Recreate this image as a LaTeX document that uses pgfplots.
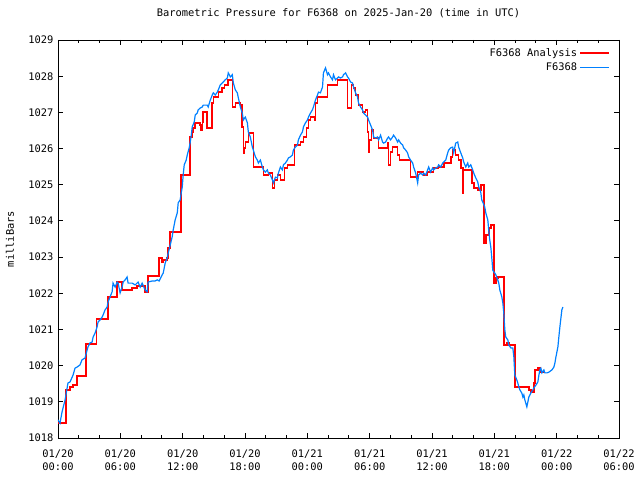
\documentclass[border=0pt]{standalone}
\usepackage{fontspec}
\setmainfont{DejaVu Sans Mono}
\usepackage{pgfplots}
\pgfplotsset{compat=1.18}
\definecolor{obsblue}{RGB}{0,128,255}
\newcommand\gf{\fontsize{10.4}{13}\selectfont}
\begin{document}
\begin{tikzpicture}[x=1pt,y=1pt,font=\gf]
\useasboundingbox (0,0) rectangle (640,480);
\begin{axis}[
  at={(58pt,42pt)}, anchor=south west, scale only axis,
  width=561pt, height=398pt,
  xmin=0, xmax=54, ymin=1018, ymax=1029,
  axis line style={line width=0.9pt},
  every tick/.style={black, line width=0.9pt},
  tick align=inside, major tick length=5pt, minor tick length=3pt,
  xtick={0,6,...,54},
  minor xtick={2,4,8,10,14,16,20,22,26,28,32,34,38,40,44,46,50,52},
  xticklabels={{01/20\\00:00},{01/20\\06:00},{01/20\\12:00},{01/20\\18:00},{01/21\\00:00},{01/21\\06:00},{01/21\\12:00},{01/21\\18:00},{01/22\\00:00},{01/22\\06:00}},
  xticklabel style={align=center, font=\gf, yshift=-8pt},
  ytick={1018,1019,...,1029},
  yticklabel style={font=\gf, /pgf/number format/1000 sep={}, /pgf/number format/assume math mode=true, xshift=-1pt},
  title={Barometric Pressure for F6368 on 2025-Jan-20 (time in UTC)},
  title style={font=\gf, at={(axis description cs:0.5,1.0528)}, anchor=center},
  ylabel={milliBars},
  ylabel style={font=\gf, at={(axis description cs:-0.0856,0.5)}, anchor=center},
  legend style={font=\gf, draw=none, fill=none, at={(axis description cs:0.984,0.985)}, anchor=north east, row sep=1pt, inner sep=0pt},
  legend cell align=right,
  legend plot pos=right,
  legend image code/.code={\draw[#1] (0pt,0pt) -- (29pt,0pt);},
]
\addplot[red, line width=1.6pt, const plot] coordinates {
(0.00,1018.41) (0.77,1019.33) (1.16,1019.41) (1.45,1019.46) (1.83,1019.71)
(2.70,1020.60) (3.71,1021.29) (4.82,1021.90) (5.69,1022.31) (6.17,1022.09)
(7.14,1022.15) (7.62,1022.20) (8.39,1022.04) (8.68,1022.48) (9.74,1022.98)
(10.03,1022.86) (10.13,1022.92) (10.51,1022.98) (10.61,1023.25) (10.80,1023.69)
(11.86,1025.27) (12.73,1026.32) (12.92,1026.46) (13.02,1026.57) (13.21,1026.71)
(13.69,1026.65) (13.79,1026.51) (13.89,1026.73) (13.98,1027.01) (14.37,1026.57)
(14.85,1027.26) (14.95,1027.43) (15.43,1027.56) (15.81,1027.67) (16.01,1027.76)
(16.39,1027.90) (16.78,1027.15) (17.07,1027.26) (17.55,1027.20) (17.74,1026.60)
(17.84,1025.88) (17.94,1026.02) (18.03,1026.18) (18.32,1026.43) (18.80,1025.49)
(19.77,1025.27) (20.25,1025.32) (20.64,1024.91) (20.83,1025.13) (21.12,1025.27)
(21.41,1025.13) (21.79,1025.46) (22.08,1025.55) (22.76,1026.10) (23.34,1026.18)
(23.63,1026.32) (23.91,1026.57) (24.11,1026.79) (24.30,1026.87) (24.69,1026.79)
(24.78,1027.26) (24.98,1027.43) (25.94,1027.76) (26.90,1027.90) (27.87,1027.12)
(28.25,1027.76) (28.45,1027.67) (28.64,1027.48) (28.93,1027.20) (29.31,1027.01)
(29.60,1027.07) (29.80,1026.46) (29.89,1025.91) (29.99,1026.24) (30.18,1026.51)
(30.38,1026.29) (30.86,1026.02) (31.73,1026.15) (31.82,1025.55) (32.01,1025.91)
(32.21,1026.04) (32.69,1025.82) (32.88,1025.68) (33.94,1025.21) (34.62,1025.35)
(35.20,1025.27) (35.58,1025.35) (36.16,1025.46) (36.64,1025.49) (37.13,1025.60)
(37.80,1025.77) (37.99,1025.96) (38.28,1025.82) (38.57,1025.68) (38.77,1025.46)
(38.96,1024.77) (39.05,1025.41) (39.83,1025.05) (40.02,1024.91) (40.40,1024.86)
(40.69,1024.99) (40.98,1023.39) (41.18,1023.61) (41.46,1023.80) (41.66,1023.89)
(41.95,1022.28) (42.14,1022.42) (42.33,1022.45) (42.91,1020.57) (43.20,1020.63)
(43.39,1020.57) (43.97,1019.41) (45.32,1019.33) (45.51,1019.27) (45.80,1019.52)
(45.90,1019.88) (46.19,1019.93) (46.38,1019.82) (46.77,1019.82)
};
\addlegendentry{F6368 Analysis}
\addplot[obsblue, line width=1.2pt] coordinates {
(0.00,1018.50) (0.19,1018.41) (0.39,1018.72) (0.68,1019.05) (0.96,1019.52)
(1.16,1019.55) (1.45,1019.74) (1.64,1019.93) (1.83,1019.96) (2.12,1020.02)
(2.31,1020.16) (2.60,1020.21) (2.80,1020.43) (2.89,1020.52) (3.09,1020.63)
(3.28,1020.65) (3.38,1020.79) (3.57,1020.90) (3.76,1021.07) (3.86,1021.21)
(4.05,1021.26) (4.24,1021.34) (4.34,1021.40) (4.53,1021.54) (4.73,1021.62)
(4.82,1021.76) (5.01,1021.90) (5.21,1022.04) (5.30,1022.28) (5.50,1022.17)
(5.69,1022.31) (5.79,1022.28) (5.98,1022.01) (6.17,1022.17) (6.27,1022.31)
(6.46,1022.37) (6.65,1022.45) (6.75,1022.28) (7.14,1022.28) (7.43,1022.23)
(7.71,1022.31) (7.91,1022.17) (8.10,1022.28) (8.39,1022.09) (8.58,1022.04)
(8.68,1022.31) (9.06,1022.34) (9.35,1022.34) (9.55,1022.37) (9.74,1022.34)
(10.03,1022.51) (10.13,1022.56) (10.32,1022.84) (10.51,1022.98) (10.61,1023.11)
(10.80,1023.33) (10.99,1023.56) (11.09,1023.75) (11.28,1024.03) (11.48,1024.22)
(11.57,1024.50) (11.76,1024.58) (11.86,1024.77) (11.96,1024.94) (12.05,1025.27)
(12.15,1025.55) (12.34,1025.68) (12.44,1025.82) (12.63,1026.02) (12.73,1026.18)
(12.83,1026.37) (12.92,1026.60) (13.11,1026.73) (13.21,1026.93) (13.40,1026.98)
(13.50,1027.07) (13.69,1027.12) (13.89,1027.15) (13.98,1027.20) (14.37,1027.20)
(14.46,1027.15) (14.66,1027.34) (14.85,1027.48) (14.95,1027.54) (15.14,1027.48)
(15.33,1027.56) (15.43,1027.62) (15.62,1027.76) (15.81,1027.81) (16.10,1027.90)
(16.30,1027.95) (16.39,1028.09) (16.49,1028.04) (16.59,1027.98) (16.78,1028.04)
(16.88,1027.81) (17.07,1027.62) (17.26,1027.54) (17.36,1027.40) (17.55,1027.15)
(17.74,1026.98) (17.84,1026.79) (18.03,1026.87) (18.23,1026.71) (18.32,1026.46)
(18.51,1026.32) (18.71,1026.04) (18.80,1025.96) (19.00,1025.77) (19.19,1025.68)
(19.29,1025.60) (19.48,1025.68) (19.67,1025.49) (19.77,1025.41) (19.96,1025.35)
(20.15,1025.41) (20.25,1025.32) (20.44,1025.27) (20.64,1025.13) (20.73,1025.05)
(20.93,1025.21) (21.12,1025.19) (21.21,1025.32) (21.41,1025.49) (21.60,1025.41)
(21.70,1025.55) (21.89,1025.60) (22.08,1025.68) (22.18,1025.74) (22.37,1025.77)
(22.56,1025.82) (22.66,1025.96) (22.85,1026.04) (23.05,1026.10) (23.14,1026.24)
(23.34,1026.37) (23.53,1026.46) (23.63,1026.60) (23.82,1026.71) (24.01,1026.79)
(24.11,1026.87) (24.30,1026.98) (24.49,1027.07) (24.59,1027.15) (24.78,1027.34)
(24.98,1027.48) (25.07,1027.56) (25.26,1027.54) (25.46,1027.70) (25.55,1028.09)
(25.75,1028.23) (25.94,1028.04) (26.04,1028.09) (26.23,1027.98) (26.42,1027.90)
(26.52,1028.04) (26.71,1027.90) (26.90,1027.95) (27.00,1027.98) (27.19,1027.95)
(27.39,1027.98) (27.48,1028.04) (27.68,1028.09) (27.87,1027.98) (27.96,1027.95)
(28.16,1027.84) (28.35,1027.81) (28.45,1027.70) (28.64,1027.54) (28.83,1027.43)
(28.93,1027.26) (29.12,1027.15) (29.31,1027.07) (29.41,1026.98) (29.60,1026.93)
(29.80,1026.87) (29.89,1026.79) (30.09,1026.65) (30.28,1026.51) (30.38,1026.32)
(30.57,1026.29) (30.76,1026.32) (30.86,1026.24) (31.05,1026.37) (31.24,1026.18)
(31.34,1026.15) (31.53,1026.18) (31.73,1026.29) (31.82,1026.32) (32.01,1026.24)
(32.21,1026.32) (32.30,1026.37) (32.50,1026.29) (32.69,1026.18) (32.79,1026.24)
(32.98,1026.15) (33.17,1026.10) (33.27,1026.02) (33.46,1025.96) (33.65,1025.88)
(33.75,1025.77) (33.94,1025.68) (34.14,1025.60) (34.23,1025.49) (34.43,1025.32)
(34.62,1025.05) (34.71,1025.27) (34.91,1025.32) (35.10,1025.27) (35.20,1025.32)
(35.39,1025.27) (35.58,1025.41) (35.68,1025.49) (35.87,1025.35) (36.06,1025.46)
(36.16,1025.41) (36.35,1025.46) (36.55,1025.49) (36.64,1025.55) (36.84,1025.49)
(37.03,1025.60) (37.13,1025.63) (37.32,1025.68) (37.51,1025.88) (37.61,1025.96)
(37.80,1026.02) (37.99,1026.04) (38.09,1025.88) (38.28,1026.15) (38.48,1026.18)
(38.57,1026.04) (38.77,1025.88) (38.96,1025.74) (39.05,1025.63) (39.25,1025.49)
(39.44,1025.60) (39.54,1025.49) (39.73,1025.55) (39.92,1025.41) (40.02,1025.32)
(40.21,1025.19) (40.40,1025.08) (40.50,1024.94) (40.69,1024.80) (40.79,1024.58)
(40.89,1024.52) (41.08,1024.38) (41.18,1024.22) (41.37,1024.03) (41.46,1023.75)
(41.56,1023.47) (41.66,1023.28) (41.75,1023.00) (41.85,1022.64) (41.95,1022.59)
(42.04,1022.56) (42.14,1022.51) (42.33,1022.37) (42.43,1022.28) (42.53,1022.09)
(42.72,1021.90) (42.82,1021.73) (42.91,1021.46) (43.01,1020.99) (43.10,1020.79)
(43.30,1020.71) (43.39,1020.57) (43.59,1020.49) (43.78,1020.49) (43.88,1020.24)
(43.97,1019.74) (44.17,1019.60) (44.26,1019.52) (44.36,1019.41) (44.46,1019.33)
(44.65,1019.24) (44.75,1019.13) (44.84,1019.19) (44.94,1019.05) (45.13,1018.86)
(45.23,1019.00) (45.32,1019.13) (45.51,1019.24) (45.71,1019.33) (45.80,1019.38)
(46.00,1019.46) (46.19,1019.55) (46.29,1019.74) (46.38,1019.88) (46.48,1019.93)
(46.58,1019.80) (46.77,1019.88) (46.86,1019.80) (47.06,1019.80) (47.25,1019.82)
(47.54,1019.88) (47.73,1019.96) (47.83,1020.07) (47.93,1020.24) (48.12,1020.52)
(48.21,1020.79) (48.31,1021.07) (48.41,1021.32) (48.50,1021.54) (48.60,1021.62)
};
\addlegendentry{F6368}
\end{axis}
\end{tikzpicture}
\end{document}
